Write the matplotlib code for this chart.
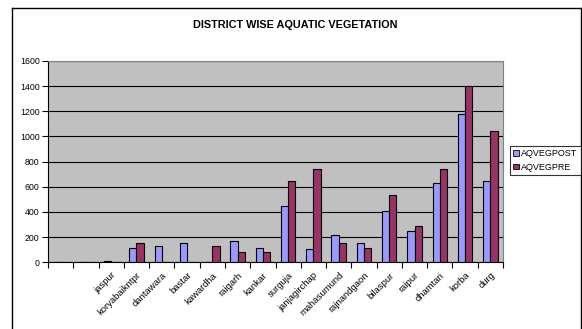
import matplotlib
matplotlib.use("Agg")
import matplotlib.pyplot as plt
from matplotlib.lines import Line2D
from matplotlib.patches import Patch
import numpy as np

plt.rcParams['font.family'] = ['Liberation Sans', 'DejaVu Sans']

districts = ["", "", "jaspur", "koryabaikntpr", "dantawara", "bastar", "kawardha",
             "raigarh", "kankar", "surguja", "janjagirchap", "mahasumund",
             "rajnandgaon", "bilaspur", "raipur", "dhamtari", "korba", "durg"]
aqveg_post = [0, 0, 10, 115, 130, 150, 0, 170, 110, 450, 105, 220, 155, 410, 250, 630, 1175, 645]
aqveg_pre = [0, 0, 0, 150, 0, 0, 130, 85, 85, 650, 745, 155, 110, 535, 290, 745, 1405, 1040]
y_ticks = [0, 200, 400, 600, 800, 1000, 1200, 1400, 1600]

W, H = 582, 329
fig = plt.figure(figsize=(W / 100, H / 100), dpi=100)
fig.patch.set_facecolor("white")

ax = fig.add_axes([48 / W, 1 - 262.3 / H, (503 - 48) / W, (262.3 - 61) / H])
ax.set_facecolor("#C0C0C0")

x = np.arange(len(districts))
bw = 1 / 3.5
ax.bar(x - bw / 2, aqveg_post, width=bw, color="#9999FF", edgecolor="black", linewidth=0.8,
       label="AQVEGPOST", zorder=3)
ax.bar(x + bw / 2, aqveg_pre, width=bw, color="#993366", edgecolor="black", linewidth=0.8,
       label="AQVEGPRE", zorder=3)

ax.set_xlim(-0.5, len(districts) - 0.5)
ax.set_ylim(0, 1600)
ax.set_yticks(y_ticks)
ax.set_yticklabels([str(v) for v in y_ticks], fontsize=6.3)
ax.yaxis.grid(True, color="black", linewidth=0.8, zorder=1)
ax.set_axisbelow(True)

ax.set_xticks(np.arange(len(districts) + 1) - 0.5, minor=False)
ax.set_xticklabels([])
ax.set_xticks(x, minor=True)
ax.set_xticklabels(districts, minor=True, rotation=45, ha="right", va="top",
                   rotation_mode="anchor", fontsize=6.8)
ax.tick_params(axis="x", which="minor", length=0, pad=6)
ax.tick_params(axis="x", which="major", length=4, width=0.8, direction="out", color="black")
ax.tick_params(axis="y", length=4, width=0.8, direction="out", pad=2)

for s in ["top", "right"]:
    ax.spines[s].set_color("#808080")
    ax.spines[s].set_linewidth(0.8)
for s in ["left", "bottom"]:
    ax.spines[s].set_color("black")
    ax.spines[s].set_linewidth(0.8)

fig.text(295 / W, 1 - 25 / H, "DISTRICT WISE AQUATIC VEGETATION", ha="center", va="center",
         fontsize=7.8, fontweight="bold")

# chart border
lw = 1.0
fig.add_artist(Line2D([12 / W, 12 / W], [0, 1 - 8 / H], color="black", linewidth=lw))
fig.add_artist(Line2D([12 / W, 580.5 / W], [1 - 8 / H, 1 - 8 / H], color="black", linewidth=lw))
fig.add_artist(Line2D([580.5 / W, 580.5 / W], [0, 1 - 8 / H], color="black", linewidth=lw))

handles = [Patch(facecolor="#9999FF", edgecolor="black", linewidth=0.6),
           Patch(facecolor="#993366", edgecolor="black", linewidth=0.6)]
leg = fig.legend(handles, ["AQVEGPOST", "AQVEGPRE"], loc="center",
                 bbox_to_anchor=(545.5 / W, 1 - 160.5 / H), fontsize=6.5,
                 handlelength=0.6, handleheight=0.6, handletextpad=0.3,
                 borderpad=0.4, labelspacing=0.5, fancybox=False, frameon=True)
leg.get_frame().set_edgecolor("black")
leg.get_frame().set_linewidth(0.8)

fig.savefig("out.png", dpi=100)
